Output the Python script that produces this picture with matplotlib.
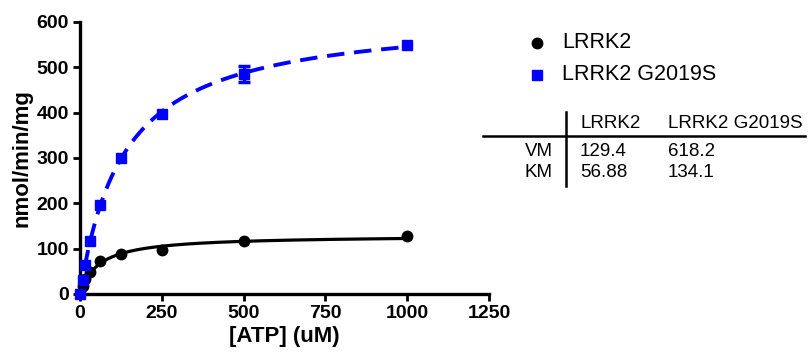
import numpy as np
import matplotlib
matplotlib.use("Agg")
import matplotlib.pyplot as plt
from matplotlib.lines import Line2D

plt.rcParams['font.family'] = ['Liberation Sans', 'DejaVu Sans']

# ATP concentration (uM)
atp = [0, 7.8, 15.6, 31.25, 62.5, 125, 250, 500, 1000]
lrrk2 = [0, 18, 33, 48, 72, 88, 98, 117, 128]
lrrk2_err = [0, 2, 2, 3, 3, 3, 3, 4, 3]
g2019s = [0, 30, 65, 118, 197, 300, 398, 486, 550]
g2019s_err = [0, 3, 4, 5, 5, 5, 5, 18, 5]

# fitted Michaelis-Menten parameters (from the table)
names = ["LRRK2", "LRRK2 G2019S"]
vm = [129.4, 618.2]
km = [56.88, 134.1]

fig = plt.figure(figsize=(8.08, 3.6), dpi=100)
ax = fig.add_axes([80/808, 1-294/360, 409/808, 272/360])

xfit = np.linspace(0, 1000, 400)
ax.plot(xfit, vm[0]*xfit/(km[0]+xfit), color='black', lw=2.3, clip_on=False)
ax.plot(xfit, vm[1]*xfit/(km[1]+xfit), color='#0000ff', lw=2.8,
        ls=(0, (4.5, 2.5)), clip_on=False)

ax.plot(atp, lrrk2, 'o', color='black', ms=7.5, clip_on=False, zorder=3)
ax.plot(atp, g2019s, 's', color='#0000ff', ms=7, clip_on=False, zorder=3)
# error bars are only visible where they stick out of the marker
x = np.array(atp)
for y, e, c in [(lrrk2, lrrk2_err, 'black'), (g2019s, g2019s_err, '#0000ff')]:
    y = np.array(y)
    e = np.array(e)
    m = e > 8
    if m.any():
        ax.errorbar(x[m], y[m], yerr=e[m], fmt='none', ecolor=c, capsize=4.5,
                    elinewidth=2.5, capthick=2.5, clip_on=False, zorder=3)

ax.set_xlim(0, 1250)
ax.set_ylim(0, 600)
ax.set_xticks([0, 250, 500, 750, 1000, 1250])
ax.set_yticks([0, 100, 200, 300, 400, 500, 600])
for s in ['top', 'right']:
    ax.spines[s].set_visible(False)
for s in ['left', 'bottom']:
    ax.spines[s].set_linewidth(2.4)
ax.tick_params(direction='out', length=5, width=2, labelsize=14, pad=3)
for lab in ax.get_xticklabels() + ax.get_yticklabels():
    lab.set_fontweight('bold')
ax.set_xlabel("[ATP] (uM)", fontsize=16, fontweight='bold', labelpad=3)
ax.set_ylabel("nmol/min/mg", fontsize=16, fontweight='bold', labelpad=3)

# legend
fig.add_artist(Line2D([537/808], [1-43/360], marker='o', color='black', ms=7.5))
fig.text(562/808, 1-43/360, names[0], fontsize=15.5, va='center')
fig.add_artist(Line2D([537/808], [1-75/360], marker='s', color='#0000ff', ms=6.5))
fig.text(562/808, 1-75/360, names[1], fontsize=15.5, va='center')

# parameter table
fig.add_artist(Line2D([483/808, 805/808], [1-136/360, 1-136/360], color='black', lw=1.8))
fig.add_artist(Line2D([566/808, 566/808], [1-112/360, 1-186/360], color='black', lw=1.8))
fs = 13.5
fig.text(580/808, 1-124/360, names[0], fontsize=fs, va='center')
fig.text(668/808, 1-124/360, names[1], fontsize=fs, va='center')
fig.text(553/808, 1-151/360, "VM", fontsize=fs, va='center', ha='right')
fig.text(553/808, 1-172/360, "KM", fontsize=fs, va='center', ha='right')
fig.text(580/808, 1-151/360, f"{vm[0]}", fontsize=fs, va='center')
fig.text(668/808, 1-151/360, f"{vm[1]}", fontsize=fs, va='center')
fig.text(580/808, 1-172/360, f"{km[0]}", fontsize=fs, va='center')
fig.text(668/808, 1-172/360, f"{km[1]}", fontsize=fs, va='center')

fig.savefig("out.png", dpi=100)
